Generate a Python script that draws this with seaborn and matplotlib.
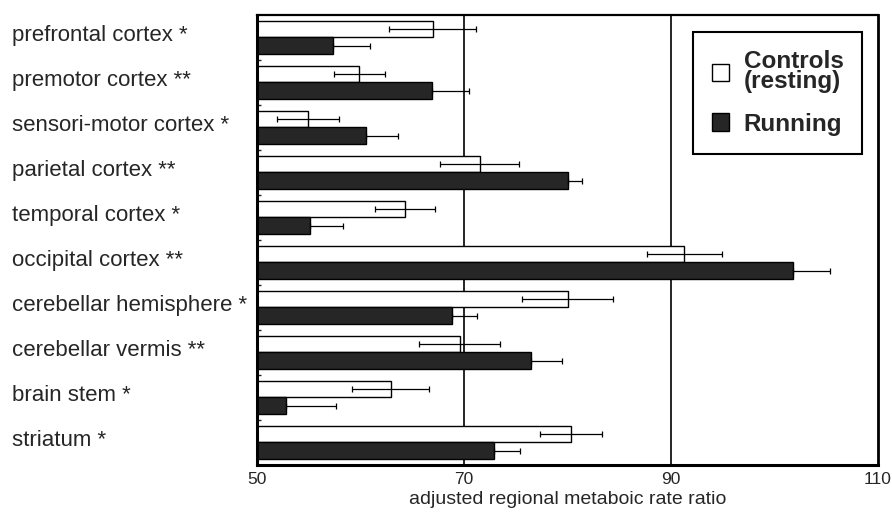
import numpy as np
import pandas as pd
import matplotlib
matplotlib.use("Agg")
import matplotlib.pyplot as plt
import matplotlib.transforms as mtransforms
import seaborn as sns

# ---- data ----
regions = ["prefrontal cortex *", "premotor cortex **", "sensori-motor cortex *",
           "parietal cortex **", "temporal cortex *", "occipital cortex **",
           "cerebellar hemisphere *", "cerebellar vermis **", "brain stem *", "striatum *"]
controls = [67.0, 59.9, 54.9, 71.5, 64.3, 91.3, 80.0, 69.6, 62.9, 80.3]
controls_err = [4.2, 2.5, 3.0, 3.8, 2.9, 3.6, 4.4, 3.9, 3.7, 3.0]
running = [57.3, 66.9, 60.5, 80.0, 55.1, 101.8, 68.8, 76.5, 52.8, 72.9]
running_err = [3.6, 3.6, 3.1, 1.4, 3.2, 3.6, 2.5, 3.0, 4.8, 2.5]
groups = ["Controls\n(resting)", "Running"]
x_ticks = [50, 70, 90, 110]
x_label = "adjusted regional metaboic rate ratio"

df = pd.DataFrame({
    "region": regions * 2,
    "value": controls + running,
    "group": [groups[0]] * len(regions) + [groups[1]] * len(regions),
})

sns.set_theme(style="white")
plt.rcParams["font.family"] = ["Liberation Sans", "DejaVu Sans"]

fig = plt.figure(figsize=(8.92, 5.12), dpi=100)
ax = fig.add_axes([257 / 892, 1 - 465 / 512, 621 / 892, 450 / 512])

ax.axvline(70, color="black", lw=1.2, zorder=0)
ax.axvline(90, color="black", lw=1.2, zorder=0)

sns.barplot(data=df, y="region", x="value", hue="group", orient="h",
            palette={groups[0]: "white", groups[1]: "#262626"},
            saturation=1, width=0.72, edgecolor="black", linewidth=1.0,
            errorbar=None, ax=ax, zorder=2)

bar_containers = list(ax.containers)

# error bars
errs = [controls_err, running_err]
vals = [controls, running]
for gi, cont in enumerate(bar_containers):
    ys = [p.get_y() + p.get_height() / 2 for p in cont.patches]
    if gi == 0:
        xerr = errs[gi]
    else:
        xerr = [np.zeros(len(regions)), errs[gi]]
    ax.errorbar(vals[gi], ys, xerr=xerr, fmt="none", ecolor="black",
                elinewidth=0.9, capsize=2.2, capthick=0.9, zorder=3)

ax.set_xlim(50, 110)
ax.set_ylim(len(regions) - 0.5, -0.5)
ax.set_xticks(x_ticks)
ax.set_xticklabels([str(t) for t in x_ticks], fontsize=12.5)
ax.tick_params(axis="x", length=0, pad=5)
ax.set_xlabel(x_label, fontsize=14, labelpad=3)
ax.set_ylabel("")

ax.set_yticks(range(len(regions)))
ax.set_yticklabels(regions, fontsize=16, ha="left")
ax.tick_params(axis="y", length=0, pad=245 * 0.72)
ax.set_yticks(np.arange(0.5, len(regions) - 0.5, 1.0), minor=True)
ax.tick_params(axis="y", which="minor", direction="in", length=3, width=1, left=True)
shift = mtransforms.ScaledTranslation(0, 4 / 100, fig.dpi_scale_trans)
for lab in ax.get_yticklabels():
    lab.set_transform(lab.get_transform() + shift)

for side, lw in [("left", 2.2), ("bottom", 2.2), ("right", 2.0), ("top", 1.6)]:
    ax.spines[side].set_visible(True)
    ax.spines[side].set_color("black")
    ax.spines[side].set_linewidth(lw)

# legend
if ax.get_legend() is not None:
    ax.get_legend().remove()
handles = [bar_containers[0].patches[0], bar_containers[1].patches[0]]
leg = ax.legend(handles, groups, loc="upper right", bbox_to_anchor=(0.974, 0.962),
                borderaxespad=0, frameon=True, fancybox=False, framealpha=1,
                edgecolor="black", borderpad=0.75, labelspacing=0.8,
                handlelength=0.72, handleheight=0.72, handletextpad=0.6,
                prop={"weight": "bold", "size": 17.5})
leg.get_frame().set_linewidth(1.5)
for t in leg.get_texts():
    t.set_linespacing(0.82)

fig.savefig("out.png", dpi=100)
